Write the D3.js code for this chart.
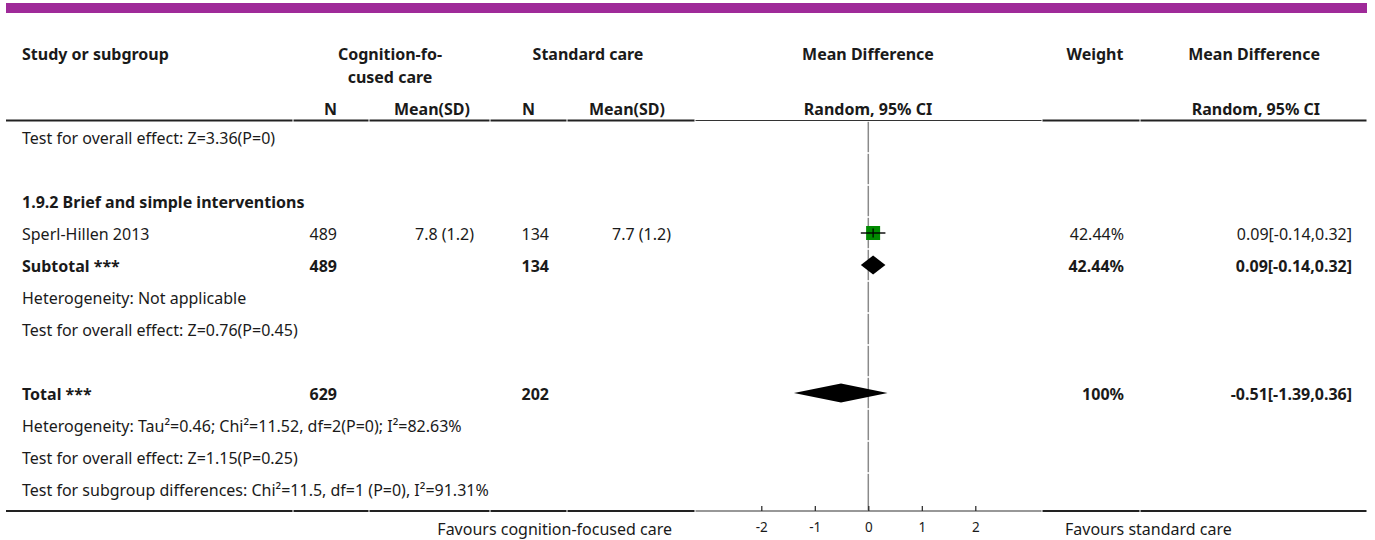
<!DOCTYPE html>
<html>
<head>
<meta charset="utf-8">
<script src="https://cdn.jsdelivr.net/npm/d3@7"></script>
<style>
  html, body { margin: 0; padding: 0; background: #fff; }
  svg text { font-family: "Noto Sans", "Open Sans", sans-serif; fill: #1a1a1a; }
</style>
</head>
<body>
<svg id="chart" width="1375" height="540"></svg>
<script>
// ---- data ----
const studyNames   = ["Sperl-Hillen 2013"];
const expN         = [489];
const expMean      = [7.8];
const expSD        = [1.2];
const ctlN         = [134];
const ctlMean      = [7.7];
const ctlSD        = [1.2];
const studyMD      = [0.09];
const studyLo      = [-0.14];
const studyHi      = [0.32];
const studyWeight  = [42.44];

const subgroupTitle   = "1.9.2 Brief and simple interventions";
const subtotalN       = [489, 134];
const subtotalEst     = [0.09, -0.14, 0.32];   // MD, lower, upper
const subtotalWeight  = 42.44;
const subtotalHet     = "Heterogeneity: Not applicable";
const subtotalEffect  = "Test for overall effect: Z=0.76(P=0.45)";
const priorEffect     = "Test for overall effect: Z=3.36(P=0)";

const totalN          = [629, 202];
const totalEst        = [-0.51, -1.39, 0.36];
const totalWeight     = 100;
const totalNotes      = [
  "Heterogeneity: Tau\u00B2=0.46; Chi\u00B2=11.52, df=2(P=0); I\u00B2=82.63%",
  "Test for overall effect: Z=1.15(P=0.25)",
  "Test for subgroup differences: Chi\u00B2=11.5, df=1 (P=0), I\u00B2=91.31%"
];

const axisTicks   = [-2, -1, 0, 1, 2];
const favoursLeft  = "Favours cognition-focused care";
const favoursRight = "Favours standard care";

// ---- layout ----
const svg = d3.select("#chart");
const left = 6, right = 1367;
const colBreaks = [left, 293, 369, 490, 567, 695, 1042, 1140, right];
const plotL = 695;
const headerLineY = 120.5;
const rowTop = 121, rowH = 32;
const bottomY = 511;
const fs = 16;

const x = d3.scaleLinear().domain([-2, 2]).range([761.3, 975.3]);
const boxSize = d3.scaleSqrt().domain([0, 100]).range([0, 21.5]);

const fmt = v => d3.format(".2f")(v).replace("\u2212", "-");
const ciText = e => `${fmt(e[0])}[${fmt(e[1])},${fmt(e[2])}]`;
const msd = (m, s) => `${m.toFixed(1)} (${s.toFixed(1)})`;

// top band
svg.append("rect").attr("x", left).attr("y", 3).attr("width", right - left).attr("height", 10)
  .attr("fill", "#9f2a99");

// header text
const hdr = svg.append("g").attr("font-weight", 700).attr("font-size", fs);
function ht(txt, xx, yy, anchor) {
  hdr.append("text").attr("x", xx).attr("y", yy).attr("text-anchor", anchor).text(txt);
}
ht("Study or subgroup", 22, 60, "start");
ht("Cognition-fo-", 390, 60, "middle");
ht("cused care", 390, 83, "middle");
ht("Standard care", 588, 60, "middle");
ht("Mean Difference", 868, 60, "middle");
ht("Weight", 1095, 60, "middle");
ht("Mean Difference", 1320, 60, "end");
ht("N", 337, 115, "end");
ht("Mean(SD)", 470, 115, "end");
ht("N", 535, 115, "end");
ht("Mean(SD)", 665, 115, "end");
ht("Random, 95% CI", 868, 115, "middle");
ht("Random, 95% CI", 1320, 115, "end");

// ruled lines split by column, thinner inside the plot column
function ruled(y) {
  for (let i = 0; i < colBreaks.length - 1; i++) {
    const a = colBreaks[i], b = colBreaks[i + 1];
    const inPlot = a === plotL;
    svg.append("line")
      .attr("x1", a + (i ? 0.5 : 0)).attr("x2", b - 0.5)
      .attr("y1", y).attr("y2", y)
      .attr("stroke", inPlot ? "#333" : "#222")
      .attr("stroke-width", inPlot ? 1.2 : 1.8);
  }
}
ruled(headerLineY);
ruled(bottomY);

// rows
const rows = [];
rows.push({ label: priorEffect });
rows.push({});
rows.push({ label: subgroupTitle, bold: true });
studyNames.forEach((s, i) => rows.push({
  label: s, n1: expN[i], m1: msd(expMean[i], expSD[i]), n2: ctlN[i], m2: msd(ctlMean[i], ctlSD[i]),
  est: [studyMD[i], studyLo[i], studyHi[i]], w: studyWeight[i], mark: "box"
}));
rows.push({
  label: "Subtotal ***", bold: true, n1: subtotalN[0], n2: subtotalN[1],
  est: subtotalEst, w: subtotalWeight, mark: "diamond"
});
rows.push({ label: subtotalHet });
rows.push({ label: subtotalEffect });
rows.push({});
rows.push({
  label: "Total ***", bold: true, n1: totalN[0], n2: totalN[1],
  est: totalEst, w: totalWeight, mark: "diamond"
});
totalNotes.forEach(t => rows.push({ label: t }));

const rowCenter = i => rowTop + rowH * i + rowH / 2;

// zero line, drawn per row with small breaks between rows
rows.forEach((r, i) => {
  const y0 = rowTop + rowH * i + 0.8;
  const y1 = (i === rows.length - 1) ? bottomY : rowTop + rowH * (i + 1) - 0.8;
  svg.append("line").attr("x1", x(0)).attr("x2", x(0)).attr("y1", y0).attr("y2", y1)
    .attr("stroke", "#8a8a8a").attr("stroke-width", 1.5);
});

const body = svg.append("g").attr("font-size", fs);
rows.forEach((r, i) => {
  const cy = rowCenter(i);
  const by = cy + 7;
  const wt = r.bold ? 700 : 400;
  function t(txt, xx, anchor) {
    body.append("text").attr("x", xx).attr("y", by).attr("text-anchor", anchor)
      .attr("font-weight", wt).text(txt);
  }
  if (r.label) t(r.label, 22, "start");
  if (r.n1 != null) t(r.n1, 337, "end");
  if (r.m1) t(r.m1, 474, "end");
  if (r.n2 != null) t(r.n2, 549, "end");
  if (r.m2) t(r.m2, 671, "end");
  if (r.w != null) t(`${+r.w.toFixed(2)}%`, 1124, "end");
  if (r.est) t(ciText(r.est), 1352, "end");

  if (r.mark === "box") {
    const s = boxSize(r.w);
    svg.append("rect").attr("x", x(r.est[0]) - s / 2).attr("y", cy - s / 2)
      .attr("width", s).attr("height", s).attr("fill", "#008a00");
    svg.append("line").attr("x1", x(r.est[1])).attr("x2", x(r.est[2]))
      .attr("y1", cy).attr("y2", cy).attr("stroke", "#000").attr("stroke-width", 1.4);
    svg.append("line").attr("x1", x(r.est[0])).attr("x2", x(r.est[0]))
      .attr("y1", cy - 4.5).attr("y2", cy + 4.5).attr("stroke", "#000").attr("stroke-width", 1.2);
  } else if (r.mark === "diamond") {
    const h = 9.5;
    const pts = [[x(r.est[1]), cy], [x(r.est[0]), cy - h], [x(r.est[2]), cy], [x(r.est[0]), cy + h]];
    svg.append("path").attr("d", d3.line()(pts) + "Z").attr("fill", "#000");
  }
});

// axis: ticks upward from the bottom rule, labels below
const axis = d3.axisBottom(x).tickValues(axisTicks).tickSize(-5).tickPadding(11)
  .tickFormat(d3.format("d"));
const ax = svg.append("g").attr("transform", `translate(0,${bottomY})`).call(axis);
ax.select(".domain").remove();
ax.selectAll(".tick line").attr("stroke", "#222").attr("stroke-width", 1.2);
ax.selectAll(".tick text").attr("font-size", 13.5).attr("fill", "#222")
  .attr("font-family", "'DejaVu Sans Condensed', 'Liberation Sans Narrow', sans-serif")
  .text(d => d3.format("d")(d).replace("\u2212", "-"));

// favours labels
svg.append("text").attr("x", 672).attr("y", 535).attr("text-anchor", "end").attr("font-size", fs)
  .text(favoursLeft);
svg.append("text").attr("x", 1065).attr("y", 535).attr("text-anchor", "start").attr("font-size", fs)
  .text(favoursRight);
</script>
</body>
</html>
